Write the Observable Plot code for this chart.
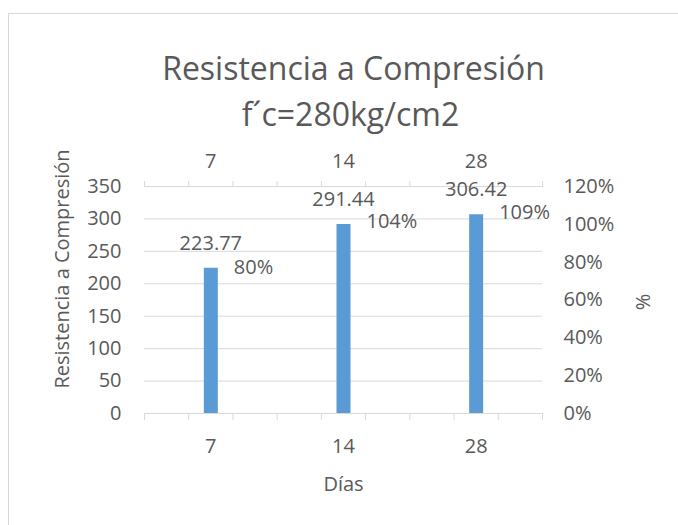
<!DOCTYPE html>
<html>
<head>
<meta charset="utf-8">
<script src="https://cdn.jsdelivr.net/npm/d3@7"></script>
<script src="https://cdn.jsdelivr.net/npm/@observablehq/plot@0.6"></script>
<style>
  html, body { margin: 0; padding: 0; background: #fff; }
  #wrap { position: relative; width: 678px; height: 525px; overflow: hidden; }
  #border { position: absolute; left: 8px; top: 13px; width: 800px; height: 800px;
            border-top: 1px solid #d9d9d9; border-left: 1px solid #d9d9d9; box-sizing: border-box; }
  #wrap svg { position: absolute; left: 0; top: 0; }
</style>
</head>
<body>
<div id="wrap"><div id="border"></div></div>
<script>
// Compressive strength by curing age
const dias = ["7", "14", "28"];
const resistencia = [223.77, 291.44, 306.42];
const porcentaje = [0.80, 1.04, 1.09];
const yTicks = [0, 50, 100, 150, 200, 250, 300, 350];
const pctTicks = [0, 20, 40, 60, 80, 100, 120];
const titulo1 = "Resistencia a Compresión";
const titulo2 = "f´c=280kg/cm2";

const yMax = 350;   // left axis top
const pctMax = 120; // right axis top (%), shares the same vertical extent
const toLeft = p => p / pctMax * yMax;

const rows = dias.map((d, i) => ({dia: d, i, r: resistencia[i], p: porcentaje[i]}));
const minorTicks = d3.range(0, 10).map(k => k / 3);
const ink = "#595959";
const line = "#d9d9d9";

const chart = Plot.plot({
  width: 678,
  height: 525,
  marginLeft: 144,
  marginRight: 136,
  marginTop: 186,
  marginBottom: 112,
  style: {fontFamily: "'Open Sans', sans-serif", fontSize: "20px", color: ink, background: "transparent", overflow: "visible"},
  x: {type: "linear", domain: [0, dias.length], axis: null},
  y: {domain: [0, yMax], axis: null},
  marks: [
    Plot.gridY({ticks: yTicks, stroke: line, strokeOpacity: 1}),
    Plot.ruleY([0], {stroke: line}),
    // tick marks along the category axes
    Plot.axisX({anchor: "bottom", ticks: minorTicks, tickSize: 7, tickFormat: () => "", stroke: line, strokeOpacity: 1}),
    Plot.axisX({anchor: "top", ticks: minorTicks, tickSize: 6, tickFormat: () => "", stroke: line, strokeOpacity: 1}),
    // category labels
    Plot.axisX({anchor: "bottom", ticks: dias.map((d, i) => i + 0.5), tickSize: 0, tickPadding: 25,
                tickFormat: v => dias[Math.floor(v)], fill: ink, label: null}),
    Plot.axisX({anchor: "top", ticks: dias.map((d, i) => i + 0.5), tickSize: 0, tickPadding: 19,
                tickFormat: v => dias[Math.floor(v)], fill: ink, label: null}),
    Plot.axisY({anchor: "left", ticks: yTicks, tickSize: 0, tickPadding: 23, fill: ink, label: null}),
    Plot.axisY({anchor: "right", ticks: pctTicks.map(toLeft), tickSize: 0, tickPadding: 21,
                tickFormat: v => Math.round(v / yMax * pctMax) + "%", fill: ink, label: null}),
    // bars
    Plot.ruleX(rows, {x: d => d.i + 0.5, y1: 0, y2: "r", stroke: "#5b9bd5", strokeWidth: 14}),
    // data labels
    Plot.text(rows, {x: d => d.i + 0.5, y: "r", text: d => d.r.toFixed(2), dy: -25, fill: ink}),
    Plot.text(rows, {x: d => d.i + 0.5, y: d => toLeft(d.p * 100), text: d => Math.round(d.p * 100) + "%",
                     dx: 23, dy: 5, textAnchor: "start", fill: ink}),
    // titles
    Plot.text([titulo1], {frameAnchor: "top", dx: 10, dy: -129, fontSize: 32, fill: ink}),
    Plot.text([titulo2], {frameAnchor: "top", dx: 7, dy: -83, fontSize: 32, fill: ink}),
    Plot.text(["Días"], {frameAnchor: "bottom", dx: 0, dy: 77, fill: ink}),
    Plot.text(["Resistencia a Compresión"], {frameAnchor: "left", textAnchor: "middle", dx: -82, dy: -31, rotate: -90, fill: ink}),
    Plot.text(["%"], {frameAnchor: "right", textAnchor: "middle", dx: 101, dy: 2, rotate: -90, fill: ink})
  ]
});
document.getElementById("wrap").appendChild(chart);
</script>
</body>
</html>
